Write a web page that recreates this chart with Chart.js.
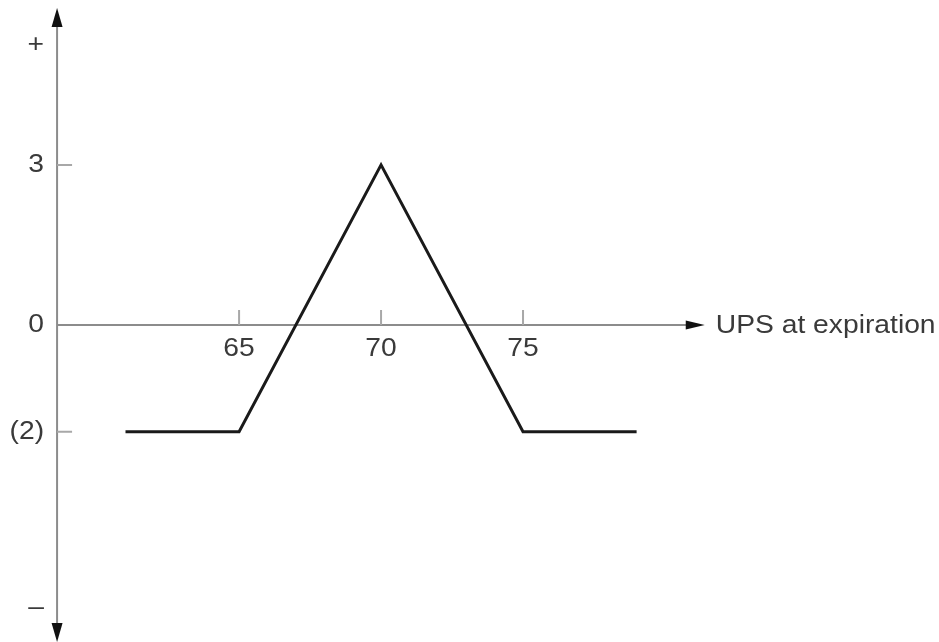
<!DOCTYPE html>
<html>
<head>
<meta charset="utf-8">
<script src="https://cdn.jsdelivr.net/npm/chart.js@4.4.1/dist/chart.umd.min.js"></script>
<style>
  html, body { margin: 0; padding: 0; background: #fff; }
  #wrap { width: 939px; height: 642px; }
</style>
</head>
<body>
<div id="wrap"><canvas id="payoff"></canvas></div>
<script>
// payoff at expiration (stock price -> profit)
const prices  = [61, 65, 70, 75, 79];
const payoffs = [-2, -2, 3, -2, -2];

const xTicks      = [65, 70, 75];
const xTickLabels = ['65', '70', '75'];
const yTicks      = [5.25, 3, 0, -2, -5.3];
const yTickLabels = ['+', '3', '0', '(2)', '\u2013'];
const yTickMarks  = [3, -2];
const xAxisTitle  = 'UPS at expiration';

// axis extents in data units
const X_MIN = 56.58, X_MAX = 89.65;
const Y_MIN = -5.94, Y_MAX = 6.09;
const AXIS_X_AT = 58.59, AXIS_X_END = 81.4;
const AXIS_Y_TOP = 5.94, AXIS_Y_BOTTOM = -5.94;

const AXIS_COLOR = '#8c8c8c';
const TEXT_COLOR = '#3a3a3a';
const FONT = '25px "Liberation Sans", Arial, sans-serif';
const STRETCH = 1.13;   // the scanned labels are a bit wider than the font

function arrow(ctx, tipX, tipY, dir) {
  // dir: 'up' | 'down' | 'right'
  const len = 19, half = 5.5;
  ctx.beginPath();
  if (dir === 'up') {
    ctx.moveTo(tipX, tipY);
    ctx.lineTo(tipX - half, tipY + len);
    ctx.lineTo(tipX + half, tipY + len);
  } else if (dir === 'down') {
    ctx.moveTo(tipX, tipY);
    ctx.lineTo(tipX - half, tipY - len);
    ctx.lineTo(tipX + half, tipY - len);
  } else {
    ctx.moveTo(tipX, tipY);
    ctx.lineTo(tipX - len, tipY - 4.5);
    ctx.lineTo(tipX - len, tipY + 4.5);
  }
  ctx.closePath();
  ctx.fill();
}

function label(ctx, text, px, py, align) {
  ctx.save();
  ctx.translate(px, py);
  ctx.scale(STRETCH, 1);
  ctx.textAlign = align;
  ctx.fillText(text, 0, 0);
  ctx.restore();
}

const axesPlugin = {
  id: 'crossAxes',
  beforeDatasetsDraw(chart) {
    const { ctx, scales: { x, y } } = chart;
    const ax = x.getPixelForValue(AXIS_X_AT);
    const ay = y.getPixelForValue(0);
    const top = y.getPixelForValue(AXIS_Y_TOP);
    const bottom = y.getPixelForValue(AXIS_Y_BOTTOM);
    const right = x.getPixelForValue(AXIS_X_END);

    ctx.save();
    ctx.strokeStyle = AXIS_COLOR;
    ctx.lineWidth = 2;
    ctx.beginPath();
    ctx.moveTo(ax, top + 10);
    ctx.lineTo(ax, bottom - 10);
    ctx.moveTo(ax, ay);
    ctx.lineTo(right - 10, ay);
    ctx.stroke();

    ctx.fillStyle = '#111';
    arrow(ctx, ax, top, 'up');
    arrow(ctx, ax, bottom, 'down');
    arrow(ctx, right, ay, 'right');

    // tick marks
    ctx.strokeStyle = '#a8a8a8';
    ctx.lineWidth = 2;
    ctx.beginPath();
    yTickMarks.forEach(v => {
      const py = y.getPixelForValue(v);
      ctx.moveTo(ax, py);
      ctx.lineTo(ax + 15, py);
    });
    xTicks.forEach(v => {
      const px = x.getPixelForValue(v);
      ctx.moveTo(px, ay);
      ctx.lineTo(px, ay - 15);
    });
    ctx.stroke();

    // labels
    ctx.fillStyle = TEXT_COLOR;
    ctx.font = FONT;
    ctx.textBaseline = 'middle';
    yTicks.forEach((v, i) => {
      label(ctx, yTickLabels[i], ax - 13, y.getPixelForValue(v), 'right');
    });
    xTicks.forEach((v, i) => {
      label(ctx, xTickLabels[i], x.getPixelForValue(v), ay + 24, 'center');
    });
    label(ctx, xAxisTitle, right + 11, ay + 1, 'left');
    ctx.restore();
  }
};

new Chart(document.getElementById('payoff'), {
  type: 'line',
  data: {
    datasets: [{
      data: prices.map((p, i) => ({ x: p, y: payoffs[i] })),
      borderColor: '#1a1a1a',
      borderWidth: 3,
      pointRadius: 0,
      tension: 0,
      fill: false
    }]
  },
  options: {
    responsive: true,
    maintainAspectRatio: false,
    animation: false,
    layout: { padding: 0 },
    plugins: { legend: { display: false }, tooltip: { enabled: false } },
    scales: {
      x: { type: 'linear', min: X_MIN, max: X_MAX, display: false },
      y: { type: 'linear', min: Y_MIN, max: Y_MAX, display: false }
    }
  },
  plugins: [axesPlugin]
});
</script>
</body>
</html>
